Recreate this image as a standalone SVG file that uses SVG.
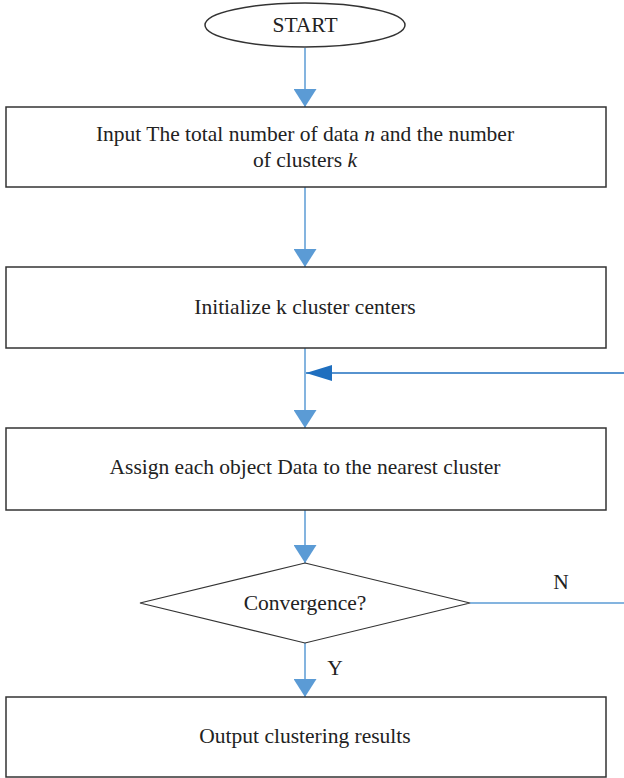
<svg xmlns="http://www.w3.org/2000/svg" width="624" height="778" viewBox="0 0 624 778">
<style>
.node{fill:#fff;stroke:#333;stroke-width:1.5}
.t{font-family:"Liberation Serif",serif;font-size:21.5px;fill:#222;text-anchor:middle}
.c{stroke:#5b9bd5;stroke-width:1.5;fill:none}
.fb{stroke:#1f6fbf;stroke-width:1.5;fill:none}
</style>
<defs>
<marker id="ah" markerWidth="18" markerHeight="23" refX="18" refY="11.5" orient="auto" markerUnits="userSpaceOnUse">
<path d="M0,0 L18,11.5 L0,23 Z" fill="#5b9bd5"/>
</marker>
<marker id="ahd" markerWidth="26" markerHeight="16" refX="26" refY="8" orient="auto" markerUnits="userSpaceOnUse">
<path d="M0,0 L26,8 L0,16 Z" fill="#1f6fbf"/>
</marker>
</defs>
<g id="connectors">
<line class="c" x1="305" y1="48" x2="305" y2="107" marker-end="url(#ah)"/>
<line class="c" x1="305" y1="187" x2="305" y2="267" marker-end="url(#ah)"/>
<line class="c" x1="305" y1="348" x2="305" y2="428" marker-end="url(#ah)"/>
<line class="fb" x1="624" y1="373" x2="306" y2="373" marker-end="url(#ahd)"/>
<line class="c" x1="305" y1="510" x2="305" y2="563" marker-end="url(#ah)"/>
<line class="c" x1="470" y1="603" x2="624" y2="603"/>
<line class="c" x1="305" y1="643" x2="305" y2="697" marker-end="url(#ah)"/>
<text class="t" x="561" y="589">N</text>
<text class="t" x="335" y="675">Y</text>
</g>
<g id="start">
<ellipse class="node" cx="305" cy="25" rx="100" ry="22"/>
<text class="t" x="305" y="32">START</text>
</g>
<g id="input">
<rect class="node" x="6" y="107" width="600" height="80"/>
<text class="t" x="305" y="141">Input The total number of data <tspan font-style="italic">n</tspan> and the number</text>
<text class="t" x="305" y="167">of clusters <tspan font-style="italic">k</tspan></text>
</g>
<g id="init">
<rect class="node" x="6" y="267" width="600" height="81"/>
<text class="t" x="305" y="314">Initialize k cluster centers</text>
</g>
<g id="assign">
<rect class="node" x="6" y="428" width="600" height="82"/>
<text class="t" x="305" y="474">Assign each object Data to the nearest cluster</text>
</g>
<g id="convergence">
<polygon class="node" points="305,563 470,603 305,643 140,603" style="stroke-width:1.2"/>
<text class="t" x="305" y="610">Convergence?</text>
</g>
<g id="output">
<rect class="node" x="6" y="697" width="600" height="80"/>
<text class="t" x="305" y="743">Output clustering results</text>
</g>
</svg>
